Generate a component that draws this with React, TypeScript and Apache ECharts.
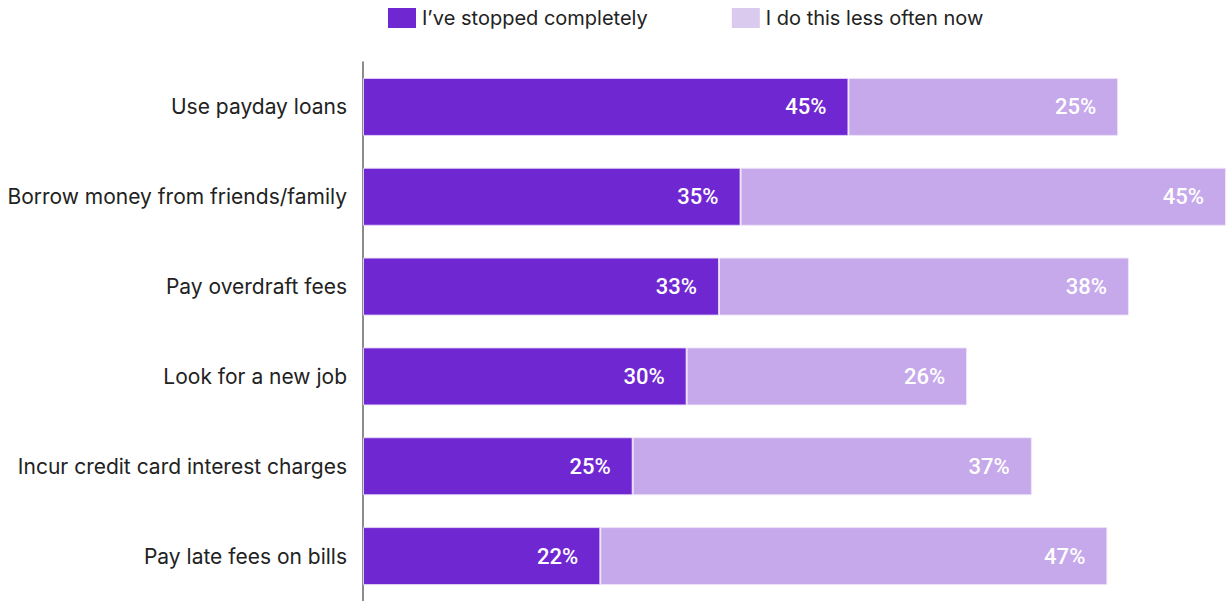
import React, { useEffect, useRef } from "react";
import * as echarts from "echarts";

const categories = [
  "Use payday loans",
  "Borrow money from friends/family",
  "Pay overdraft fees",
  "Look for a new job",
  "Incur credit card interest charges",
  "Pay late fees on bills",
];
const stoppedCompletely = [45, 35, 33, 30, 25, 22];
const lessOften = [25, 45, 38, 26, 37, 47];
const seriesNames = ["I\u2019ve stopped completely", "I do this less often now"];

const FONT = "Inter, Roboto, sans-serif";

export default function App() {
  const ref = useRef<HTMLDivElement>(null);
  useEffect(() => {
    if (!ref.current) return;
    const chart = echarts.init(ref.current, undefined, { renderer: "svg" });
    const label = {
      show: true,
      position: "insideRight",
      distance: 22,
      color: "#ffffff",
      fontSize: 22,
      fontWeight: 500,
      fontFamily: "Roboto, sans-serif",
      formatter: "{c}%",
    };
    chart.setOption({
      animation: false,
      textStyle: { fontFamily: FONT },
      legend: {
        left: 388,
        top: 8,
        padding: 0,
        itemWidth: 28,
        itemHeight: 20,
        itemGap: 84,
        icon: "rect",
        textStyle: { fontSize: 20, color: "#222", fontFamily: FONT, padding: [0, 0, 0, 1] },
        data: [
          { name: seriesNames[0], itemStyle: { color: "#6f27d2", borderWidth: 0 } },
          { name: seriesNames[1], itemStyle: { color: "#dacaee", borderWidth: 0 } },
        ],
      },
      grid: { left: 363, right: 0, top: 62, bottom: 0, containLabel: false },
      xAxis: {
        type: "value",
        min: 0,
        max: 80,
        show: false,
      },
      yAxis: {
        type: "category",
        data: categories,
        inverse: true,
        axisLine: { show: true, lineStyle: { color: "#666", width: 1.5 } },
        axisTick: { show: false },
        axisLabel: { fontSize: 21, color: "#222", margin: 16, fontFamily: FONT },
      },
      series: [
        {
          name: seriesNames[0],
          type: "bar",
          stack: "total",
          data: stoppedCompletely,
          barWidth: 58,
          itemStyle: { color: "#6f27d2", borderColor: "rgba(230,215,250,0.9)", borderWidth: 1 },
          label,
        },
        {
          name: seriesNames[1],
          type: "bar",
          stack: "total",
          data: lessOften,
          barWidth: 58,
          itemStyle: { color: "#c6a9ea", borderColor: "rgba(240,230,252,0.9)", borderWidth: 1 },
          label,
        },
      ],
    });
    return () => chart.dispose();
  }, []);
  return (
    <div
      ref={ref}
      style={{ position: "fixed", left: 0, top: 0, width: 1226, height: 601, background: "#fff" }}
    />
  );
}
